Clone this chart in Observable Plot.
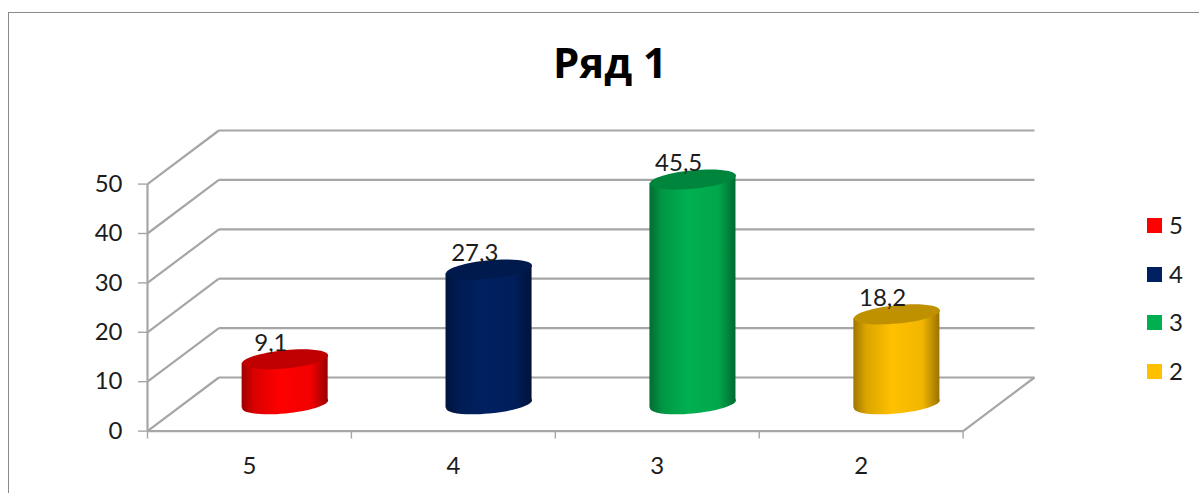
<!DOCTYPE html>
<html lang="ru">
<head>
<meta charset="utf-8">
<script src="https://cdn.jsdelivr.net/npm/d3@7"></script>
<script src="https://cdn.jsdelivr.net/npm/@observablehq/plot@0.6"></script>
<style>
  html, body { margin: 0; padding: 0; background: #fff; overflow: hidden; }
  #page { position: relative; width: 1199px; height: 493px; font-family: "Open Sans", sans-serif; color: #1c1c1c; }
  #frame { position: absolute; left: 8px; top: 12px; right: -4px; bottom: -4px;
           border-left: 1.5px solid #8a8a8a; border-top: 1.5px solid #8a8a8a; }
  #title { position: absolute; left: 410px; width: 400px; top: 34px; text-align: center;
           font-size: 42px; font-weight: 700; line-height: 56px; color: #000; }
  #legend { position: absolute; left: 1147px; top: 210px; font-family: Lato, sans-serif; font-size: 24px; }
  .item { position: absolute; left: 0; height: 30px; white-space: nowrap; }
  .sw { position: absolute; left: 0; top: 8px; width: 15px; height: 15px; }
  .lb { position: absolute; left: 22px; top: 1px; line-height: 28px; }
  svg { position: absolute; left: 0; top: 0; }
</style>
</head>
<body>
<div id="page">
  <div id="frame"></div>
  <div id="chart"></div>
  <div id="title">Ряд 1</div>
  <div id="legend"></div>
</div>
<script>
const categories = ["5", "4", "3", "2"];
const values = [9.1, 27.3, 45.5, 18.2];
const colors = ["#ff0000", "#002060", "#00b050", "#ffc000"];
const topColors = ["#c00000", "#001a4d", "#00853d", "#bf9000"];
const yTicks = [0, 10, 20, 30, 40, 50];

const gridColor = "#a6a6a6";
const depthX = 0.35;      // depth of the floor in category units
const depthY = 10.85;     // depth of the floor in value units
const halfWidth = 0.211;  // cylinder half width in category units
const tilt = 0.81;        // slant of the cylinder ends in value units

const rows = categories.map((c, i) => ({
  i, category: c, value: values[i],
  cx: i + 0.5 + depthX / 2,
  base: depthY / 2,
  top: values[i] + depthY / 2
}));
const boundaries = d3.range(categories.length + 1);
const xMax = categories.length;

// A slanted ellipse: the end of a cylinder seen from above and the left.
const slantedEllipse = {
  draw(ctx, size) {
    const a = Math.sqrt(size / Math.PI), b = a * 0.214, k = a * 0.093, c = 0.5523;
    const p = (u, v) => [a * u, b * v - k * u];
    ctx.moveTo(...p(1, 0));
    ctx.bezierCurveTo(...p(1, c), ...p(c, 1), ...p(0, 1));
    ctx.bezierCurveTo(...p(-c, 1), ...p(-1, c), ...p(-1, 0));
    ctx.bezierCurveTo(...p(-1, -c), ...p(-c, -1), ...p(0, -1));
    ctx.bezierCurveTo(...p(c, -1), ...p(1, -c), ...p(1, 0));
    ctx.closePath();
  }
};

function gradients() {
  const defs = d3.create("svg:defs");
  colors.forEach((color, i) => {
    const g = defs.append("linearGradient").attr("id", `side-${i}`)
      .attr("x1", 0).attr("x2", 1).attr("y1", 0).attr("y2", 0);
    const dark = f => d3.interpolateRgb("#000", color)(f);
    [[0, 0.62], [0.15, 0.86], [0.45, 1], [0.8, 0.95], [1, 0.6]].forEach(([o, f]) =>
      g.append("stop").attr("offset", o).attr("stop-color", dark(f)));
  });
  return defs.node();
}

const lineStyle = { stroke: gridColor, strokeWidth: 2.2 };

const chart = Plot.plot({
  width: 1199,
  height: 493,
  marginLeft: 147,
  marginRight: 165,
  marginTop: 130,
  marginBottom: 62.4,
  x: { type: "linear", domain: [0, xMax + depthX], axis: null },
  y: { type: "linear", domain: [0, 50 + depthY], axis: null },
  style: { fontFamily: "Lato, sans-serif", background: "transparent", color: "#1c1c1c" },
  marks: [
    gradients,
    // back wall gridlines
    Plot.link(yTicks, { x1: depthX, x2: xMax + depthX, y1: d => d + depthY, y2: d => d + depthY, ...lineStyle }),
    // left wall diagonals
    Plot.link(yTicks, { x1: 0, x2: depthX, y1: d => d, y2: d => d + depthY, ...lineStyle }),
    // floor
    Plot.link([0], { x1: xMax, x2: xMax + depthX, y1: 0, y2: depthY, ...lineStyle }),
    Plot.link([0], { x1: 0, x2: xMax, y1: 0, y2: 0, ...lineStyle }),
    // vertical axis line and category separators
    Plot.link([0], { x1: 0, x2: 0, y1: 0, y2: 50, ...lineStyle }),
    Plot.ruleX(boundaries, { x: d => d, y1: 0, y2: -1.6, stroke: gridColor, strokeWidth: 1.4 }),
    // cylinders
    rows.map(r => [
      Plot.dot([r], { x: "cx", y: "base", r: 43, symbol: slantedEllipse, fill: `url(#side-${r.i})` }),
      Plot.area(
        [
          { x: r.cx - halfWidth, y1: r.base - tilt, y2: r.top - tilt },
          { x: r.cx + halfWidth, y1: r.base + tilt, y2: r.top + tilt }
        ],
        { x1: "x", y1: "y1", y2: "y2", fill: `url(#side-${r.i})` }
      ),
      Plot.dot([r], { x: "cx", y: "top", r: 43, symbol: slantedEllipse, fill: topColors[r.i] })
    ]),
    // value labels
    Plot.text(rows, {
      x: r => r.cx - 0.07, y: "top", dy: -16,
      text: r => String(r.value).replace(".", ","),
      fontSize: 24, fill: "#1c1c1c", textAnchor: "middle"
    }),
    // axes
    Plot.axisY({ ticks: yTicks, tickSize: 9, tickPadding: 16, fontSize: 24, stroke: gridColor, strokeWidth: 1.4, fill: "#1c1c1c", label: null, tickFormat: d => String(d) }),
    Plot.axisX({ ticks: categories.map((c, i) => i + 0.5), tickSize: 0, tickPadding: 26, fontSize: 24, fill: "#1c1c1c", label: null, tickFormat: d => categories[d - 0.5] })
  ]
});
document.getElementById("chart").append(chart);

const legend = d3.select("#legend");
categories.forEach((c, i) => {
  const item = legend.append("div").attr("class", "item").style("top", `${i * 48.6}px`);
  item.append("div").attr("class", "sw").style("background", colors[i]);
  item.append("div").attr("class", "lb").text(c);
});
</script>
</body>
</html>
